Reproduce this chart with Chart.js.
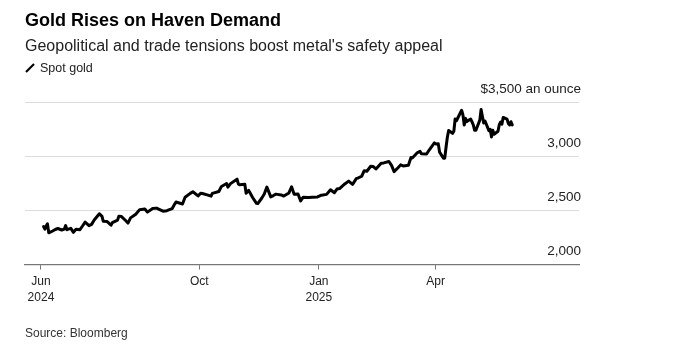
<!DOCTYPE html>
<html>
<head>
<meta charset="utf-8">
<script src="https://cdn.jsdelivr.net/npm/chart.js@4.4.1/dist/chart.umd.min.js"></script>
<style>
  html, body { margin: 0; padding: 0; background: #fff; }
  body { width: 682px; height: 355px; position: relative; overflow: hidden; font-family: "Liberation Sans", Arial, sans-serif; }
  #wrap { position: absolute; left: 0; top: 0; width: 682px; height: 355px; }
  .title { position: absolute; left: 25px; top: 10px; font-size: 18px; font-weight: bold; color: #000; }
  .sub { position: absolute; left: 25px; top: 37px; font-size: 16px; color: #222; }
  .legend { position: absolute; left: 25px; top: 61px; font-size: 12.5px; color: #222; }
  .legend svg { vertical-align: -1px; margin-right: 5px; }
  .source { position: absolute; left: 25px; top: 326px; font-size: 12px; color: #333; }
</style>
</head>
<body>
<div id="wrap"><canvas id="c" width="682" height="355"></canvas></div>
<div class="title">Gold Rises on Haven Demand</div>
<div class="sub">Geopolitical and trade tensions boost metal's safety appeal</div>
<div class="legend"><svg width="10" height="10"><line x1="1" y1="9" x2="9" y2="1" stroke="#000" stroke-width="2.2"/></svg>Spot gold</div>
<div class="source">Source: Bloomberg</div>
<script>
const seriesName = "Spot gold";
const dates = [
"2024-06-03","2024-06-04","2024-06-05","2024-06-06","2024-06-07","2024-06-10","2024-06-12","2024-06-14","2024-06-17","2024-06-19",
"2024-06-20","2024-06-21","2024-06-24","2024-06-26","2024-06-28","2024-07-01","2024-07-03","2024-07-05","2024-07-08","2024-07-10",
"2024-07-12","2024-07-16","2024-07-18","2024-07-19","2024-07-22","2024-07-25","2024-07-26","2024-07-30","2024-07-31","2024-08-02",
"2024-08-05","2024-08-07","2024-08-09","2024-08-13","2024-08-16","2024-08-20","2024-08-22","2024-08-26","2024-08-29","2024-09-03",
"2024-09-06","2024-09-10","2024-09-12","2024-09-13","2024-09-18","2024-09-20","2024-09-24","2024-09-26","2024-09-30","2024-10-02",
"2024-10-04","2024-10-07","2024-10-10","2024-10-11","2024-10-16","2024-10-18","2024-10-22","2024-10-23","2024-10-25","2024-10-30",
"2024-10-31","2024-11-01","2024-11-05","2024-11-06","2024-11-08","2024-11-11","2024-11-14","2024-11-15","2024-11-18","2024-11-20",
"2024-11-22","2024-11-25","2024-11-27","2024-11-29","2024-12-03","2024-12-05","2024-12-09","2024-12-11","2024-12-13","2024-12-16",
"2024-12-18","2024-12-20","2024-12-24","2024-12-27","2024-12-31","2025-01-03","2025-01-07","2025-01-10","2025-01-13","2025-01-15",
"2025-01-17","2025-01-21","2025-01-24","2025-01-27","2025-01-30","2025-01-31","2025-02-03","2025-02-05","2025-02-07","2025-02-10",
"2025-02-12","2025-02-14","2025-02-18","2025-02-20","2025-02-24","2025-02-26","2025-02-28","2025-03-03","2025-03-05","2025-03-07",
"2025-03-11","2025-03-13","2025-03-14","2025-03-18","2025-03-20","2025-03-21","2025-03-25","2025-03-27","2025-03-31","2025-04-01",
"2025-04-03","2025-04-04","2025-04-07","2025-04-08","2025-04-09","2025-04-10","2025-04-11","2025-04-14","2025-04-15","2025-04-16",
"2025-04-17","2025-04-21","2025-04-22","2025-04-23","2025-04-24","2025-04-25","2025-04-28","2025-04-29","2025-04-30","2025-05-01",
"2025-05-02","2025-05-05","2025-05-06","2025-05-07","2025-05-08","2025-05-09","2025-05-12","2025-05-13","2025-05-14","2025-05-15",
"2025-05-16","2025-05-19","2025-05-20","2025-05-21","2025-05-22","2025-05-23","2025-05-26","2025-05-27","2025-05-28","2025-05-29",
"2025-05-30"
];
const prices = [
2350,2327,2355,2376,2293,2310,2324,2333,2319,2328,
2360,2322,2334,2298,2326,2322,2356,2392,2359,2371,
2411,2469,2445,2400,2397,2364,2387,2410,2447,2443,
2409,2383,2431,2465,2507,2513,2484,2518,2521,2493,
2497,2516,2558,2577,2559,2621,2657,2672,2634,2659,
2653,2643,2631,2657,2674,2721,2748,2714,2747,2788,
2744,2736,2742,2658,2685,2619,2565,2563,2612,2651,
2715,2625,2637,2650,2643,2632,2661,2718,2648,2652,
2587,2622,2618,2621,2624,2640,2648,2690,2663,2697,
2702,2744,2770,2740,2795,2798,2815,2866,2861,2907,
2904,2882,2935,2938,2951,2915,2858,2893,2920,2910,
2917,2988,2984,3034,3045,3022,3020,3057,3123,3113,
3114,3038,2982,2982,3083,3175,3237,3211,3230,3343,
3327,3424,3381,3288,3349,3319,3343,3317,3288,3239,
3240,3333,3431,3366,3306,3325,3236,3248,3177,3240,
3202,3230,3290,3315,3295,3357,3342,3300,3288,3318,
3289
];
const axisOrigin = "2024-06-01";
const tickDates = ["2024-06-01","2024-10-01","2025-01-01","2025-04-01"];
const tickLabels = [["Jun","2024"],["Oct"],["Jan","2025"],["Apr"]];
const yTicks = [2000, 2500, 3000, 3500];
const yTickLabels = ["2,000", "2,500", "3,000", "$3,500 an ounce"];

const DAY = 86400000;
const toDay = s => Math.round((Date.parse(s + "T00:00:00Z") - Date.parse(axisOrigin + "T00:00:00Z")) / DAY);
const points = dates.map((d, i) => ({ x: toDay(d), y: prices[i] }));
const tickPos = tickDates.map(toDay);

const FONT = "'Liberation Sans', Arial, sans-serif";

new Chart(document.getElementById('c'), {
  type: 'line',
  data: { datasets: [{ label: seriesName, data: points, borderColor: '#000', borderWidth: 3, pointRadius: 0, tension: 0, borderJoinStyle: 'round', borderCapStyle: 'round' }] },
  options: {
    responsive: false,
    animation: false,
    events: [],
    layout: { padding: { left: 25, right: 99, top: 102, bottom: 45 } },
    plugins: { legend: { display: false }, tooltip: { enabled: false }, title: { display: false } },
    scales: {
      x: {
        type: 'linear',
        min: -12.3,
        max: 414.4,
        afterBuildTicks: s => { s.ticks = tickPos.map(v => ({ value: v })); },
        ticks: {
          autoSkip: false, maxRotation: 0, padding: 4,
          color: '#222', font: { family: FONT, size: 12, lineHeight: 1.35 },
          callback: (v) => { const i = tickPos.indexOf(v); return i >= 0 ? tickLabels[i] : ''; }
        },
        grid: { drawOnChartArea: false, drawTicks: true, tickLength: 5, color: '#777', lineWidth: 1 },
        border: { display: true, color: '#777', width: 1.2 }
      },
      y: {
        type: 'linear',
        position: 'right',
        min: 2000,
        max: 3500,
        afterBuildTicks: s => { s.ticks = yTicks.map(v => ({ value: v })); },
        ticks: {
          mirror: true, padding: 2, labelOffset: -13,
          color: '#222', font: { family: FONT, size: 13.5 },
          callback: (v) => { const i = yTicks.indexOf(v); return i >= 0 ? yTickLabels[i] : ''; }
        },
        grid: { drawTicks: false, color: ctx => (ctx.tick && ctx.tick.value === 2000) ? 'rgba(0,0,0,0)' : '#dcdcdc', lineWidth: 1 },
        border: { display: false }
      }
    }
  }
});
</script>
</body>
</html>
